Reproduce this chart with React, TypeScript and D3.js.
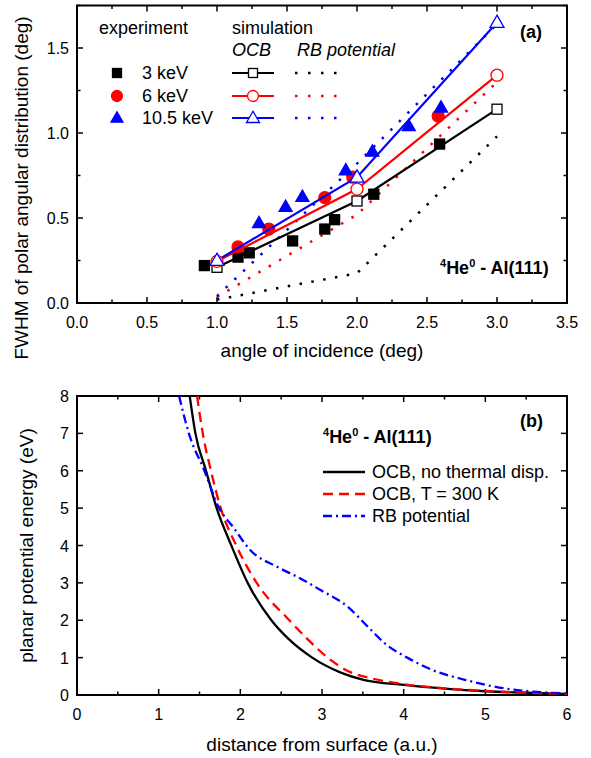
import React from "react";
import * as d3 from "d3";

const W = 591, H = 758;
const FONT = "'Liberation Sans', Arial, Helvetica, sans-serif";
const BLUE = "#0000ff", RED = "#ff0000";

// panel (a) experiment: angle of incidence (deg) vs FWHM (deg)
const exp3X = [0.91, 1.15, 1.23, 1.54, 1.77, 1.84, 2.12, 2.59];
const exp3Y = [0.22, 0.27, 0.295, 0.365, 0.435, 0.49, 0.64, 0.935];
const exp6X = [1.15, 1.37, 1.77, 1.97, 2.58];
const exp6Y = [0.33, 0.435, 0.62, 0.74, 1.1];
const exp10X = [1.30, 1.49, 1.61, 1.92, 2.11, 2.37, 2.60];
const exp10Y = [0.47, 0.565, 0.625, 0.78, 0.89, 1.04, 1.15];

// panel (a) simulation
const simX = [1, 2, 3];
const ocb3 = [0.21, 0.6, 1.14];
const ocb6 = [0.245, 0.67, 1.34];
const ocb10 = [0.25, 0.74, 1.65];
const rb3 = [0.02, 0.175, 0.98];
const rb6 = [0.035, 0.52, 1.3];
const rb10 = [0.04, 0.82, 1.64];

const keVLabels = ["3 keV", "6 keV", "10.5 keV"];

// panel (b): distance (a.u.) vs planar potential energy (eV)
const ocbX = [1.38, 1.45, 1.58, 1.71, 1.89, 2.09, 2.38, 2.59, 2.88, 3.23, 3.52, 4.0, 4.5, 5.0, 5.5, 6.0];
const ocbY = [8, 7, 6, 5, 4, 3, 2, 1.5, 1, 0.6, 0.4, 0.27, 0.17, 0.1, 0.06, 0.03];
const ocbTX = [1.47, 1.54, 1.64, 1.76, 1.95, 2.2, 2.6, 2.82, 3.07, 3.31, 3.6, 4.0, 4.5, 5.0, 5.5, 6.0];
const ocbTY = [8, 7, 6, 5, 4, 3, 2, 1.5, 1, 0.65, 0.45, 0.29, 0.18, 0.11, 0.06, 0.03];
const rbX = [1.25, 1.37, 1.56, 1.74, 1.91, 2.12, 2.45, 2.69, 2.98, 3.31, 3.56, 3.77, 4.06, 4.35, 4.76, 5.17, 5.59, 6.0];
const rbY = [8, 7, 6, 5, 4.5, 3.88, 3.43, 3.17, 2.81, 2.37, 1.83, 1.38, 0.98, 0.67, 0.4, 0.2, 0.09, 0.04];
const legendB = ["OCB, no thermal disp.", "OCB, T = 300 K", "RB potential"];

const xA = d3.scaleLinear().domain([0, 3.5]).range([77, 567]);
const yA = d3.scaleLinear().domain([0, 1.75]).range([303, 5.5]);
const xB = d3.scaleLinear().domain([0, 6]).range([77, 567]);
const yB = d3.scaleLinear().domain([0, 8]).range([695, 396]);

const zip = (xs: number[], ys: number[]) => xs.map((x, i) => [x, ys[i]] as [number, number]);

function Frame({ x, y, xStep, xMinor, yStep, yMinor, xFmt, yFmt }: any) {
  const [x0, x1] = x.range();
  const [y0, y1] = y.range();
  const xd = x.domain(), yd = y.domain();
  const xMaj = d3.range(xd[0], xd[1] + 1e-9, xStep);
  const xMin = d3.range(xd[0], xd[1] + 1e-9, xMinor);
  const yMaj = d3.range(yd[0], yd[1] + 1e-9, yStep);
  const yMin = yMinor ? d3.range(yd[0], yd[1] + 1e-9, yMinor) : [];
  const L = 6, l = 3.5;
  return (
    <g stroke="#000" strokeWidth={1.5}>
      {xMin.map((v: number, i: number) => {
        const len = xMaj.some((m: number) => Math.abs(m - v) < 1e-9) ? L : l;
        return (
          <g key={"x" + i}>
            <line x1={x(v)} x2={x(v)} y1={y0} y2={y0 - len} />
            <line x1={x(v)} x2={x(v)} y1={y1} y2={y1 + len} />
          </g>
        );
      })}
      {(yMin.length ? yMin : yMaj).map((v: number, i: number) => {
        const len = yMaj.some((m: number) => Math.abs(m - v) < 1e-9) ? L : l;
        return (
          <g key={"y" + i}>
            <line x1={x0} x2={x0 + len} y1={y(v)} y2={y(v)} />
            <line x1={x1} x2={x1 - len} y1={y(v)} y2={y(v)} />
          </g>
        );
      })}
      <rect x={x0} y={y1} width={x1 - x0} height={y0 - y1} fill="none" strokeWidth={2} />
      <g stroke="none" fill="#000" fontSize={16}>
        {xMaj.map((v: number, i: number) => (
          <text key={"xl" + i} x={x(v)} y={y0 + 25} textAnchor="middle">{xFmt(v)}</text>
        ))}
        {yMaj.map((v: number, i: number) => (
          <text key={"yl" + i} x={x0 - 8} y={y(v) + 6} textAnchor="end">{yFmt(v)}</text>
        ))}
      </g>
    </g>
  );
}

const Square = ({ cx, cy, s, fill, stroke }: any) => (
  <rect x={cx - s / 2} y={cy - s / 2} width={s} height={s} fill={fill} stroke={stroke} strokeWidth={1.3} />
);
const Circle = ({ cx, cy, s, fill, stroke }: any) => (
  <circle cx={cx} cy={cy} r={s / 2} fill={fill} stroke={stroke} strokeWidth={1.3} />
);
const Tri = ({ cx, cy, s, fill, stroke }: any) => {
  const h = s * 0.87;
  return (
    <path d={`M${cx},${cy - h * 0.6}L${cx + s / 2},${cy + h * 0.4}L${cx - s / 2},${cy + h * 0.4}Z`} fill={fill} stroke={stroke} strokeWidth={1.3} />
  );
};

const Title = ({ x, y }: any) => (
  <text x={x} y={y} fontSize={18} fontWeight="bold">
    <tspan fontSize={11} dy={-7}>4</tspan>
    <tspan dy={7}>He</tspan>
    <tspan fontSize={11} dy={-7}>0</tspan>
    <tspan dy={7}> - Al(111)</tspan>
  </text>
);

export default function App() {
  const lineA = d3.line<[number, number]>().x((d) => xA(d[0])).y((d) => yA(d[1]));
  const lineB = d3.line<[number, number]>().x((d) => xB(d[0])).y((d) => yB(d[1])).curve(d3.curveMonotoneX);
  const colors = ["#000", RED, BLUE];
  const ocbs = [ocb3, ocb6, ocb10];
  const rbs = [rb3, rb6, rb10];
  const markers = [Square, Circle, Tri];
  const exps = [zip(exp3X, exp3Y), zip(exp6X, exp6Y), zip(exp10X, exp10Y)];
  const expSize = [10, 12, 13];
  const openSize = [10, 12, 14];
  const rows = [73, 96, 118];
  const rowsB = [472, 494, 516];
  const dashB = ["none", "10 6", "9 4 2 4"];
  const curvesB = [zip(ocbX, ocbY), zip(ocbTX, ocbTY), zip(rbX, rbY)];

  return (
    <svg width={W} height={H} style={{ position: "absolute", left: 0, top: 0, background: "#fff" }} fontFamily={FONT}>
      <defs>
        <clipPath id="clipB">
          <rect x={77} y={396} width={490} height={299} />
        </clipPath>
      </defs>
      {/* panel (a) */}
      <Frame x={xA} y={yA} xStep={0.5} xMinor={0.25} yStep={0.5} yMinor={0.25} xFmt={d3.format(".1f")} yFmt={d3.format(".1f")} />
      {rbs.map((r, i) => (
        <path key={"rb" + i} d={lineA(zip(simX, r)) || ""} fill="none" stroke={colors[i]} strokeWidth={2.5} strokeDasharray="2.5 9.5" />
      ))}
      {exps.map((pts, i) => {
        const M = markers[i];
        return pts.map((p, j) => <M key={"e" + i + "-" + j} cx={xA(p[0])} cy={yA(p[1])} s={expSize[i]} fill={colors[i]} stroke={colors[i]} />);
      })}
      {ocbs.map((o, i) => (
        <path key={"ocb" + i} d={lineA(zip(simX, o)) || ""} fill="none" stroke={colors[i]} strokeWidth={2.2} />
      ))}
      {ocbs.map((o, i) => {
        const M = markers[i];
        return o.map((v, j) => <M key={"o" + i + "-" + j} cx={xA(simX[j])} cy={yA(v)} s={openSize[i]} fill="#fff" stroke={colors[i]} />);
      })}
      {/* legend (a) */}
      <g fontSize={18}>
        <text x={99} y={34}>experiment</text>
        <text x={232} y={34}>simulation</text>
        <text x={232} y={56} fontStyle="italic">OCB</text>
        <text x={297} y={56} fontStyle="italic">RB potential</text>
        {rows.map((ry, i) => {
          const M = markers[i];
          return (
            <g key={"lg" + i}>
              <M cx={117} cy={ry} s={expSize[i] - 1} fill={colors[i]} stroke={colors[i]} />
              <text x={142} y={ry + 6}>{keVLabels[i]}</text>
              <line x1={232} x2={274} y1={ry} y2={ry} stroke={colors[i]} strokeWidth={2.2} />
              <M cx={253} cy={ry} s={openSize[i] - 1} fill="#fff" stroke={colors[i]} />
              <line x1={295} x2={337} y1={ry} y2={ry} stroke={colors[i]} strokeWidth={2.5} strokeDasharray="2.5 10.5" />
            </g>
          );
        })}
      </g>
      <text x={520} y={38} fontSize={18} fontWeight="bold">(a)</text>
      <Title x={440} y={274} />
      <text x={xA(1.75)} y={357} fontSize={19} textAnchor="middle">angle of incidence (deg)</text>
      <text transform={`translate(28,188) rotate(-90)`} fontSize={19} textAnchor="middle">FWHM of polar angular distribution (deg)</text>

      {/* panel (b) */}
      <Frame x={xB} y={yB} xStep={1} xMinor={0.5} yStep={1} yMinor={0} xFmt={d3.format("d")} yFmt={d3.format("d")} />
      <g clipPath="url(#clipB)">
        {curvesB.map((c, i) => (
          <path key={"cb" + i} d={lineB(c) || ""} fill="none" stroke={colors[i]} strokeWidth={2.3} strokeDasharray={dashB[i]} />
        ))}
      </g>
      <Title x={323} y={443} />
      <g fontSize={18}>
        {rowsB.map((ry, i) => (
          <g key={"lb" + i}>
            <line x1={323} x2={365} y1={ry} y2={ry} stroke={colors[i]} strokeWidth={2.3} strokeDasharray={dashB[i]} />
            <text x={372} y={ry + 6}>{legendB[i]}</text>
          </g>
        ))}
      </g>
      <text x={520} y={427} fontSize={18} fontWeight="bold">(b)</text>
      <text x={xB(3)} y={751} fontSize={19} textAnchor="middle">distance from surface (a.u.)</text>
      <text transform={`translate(33,${(695 + 396) / 2}) rotate(-90)`} fontSize={19} textAnchor="middle">planar potential energy (eV)</text>
    </svg>
  );
}
